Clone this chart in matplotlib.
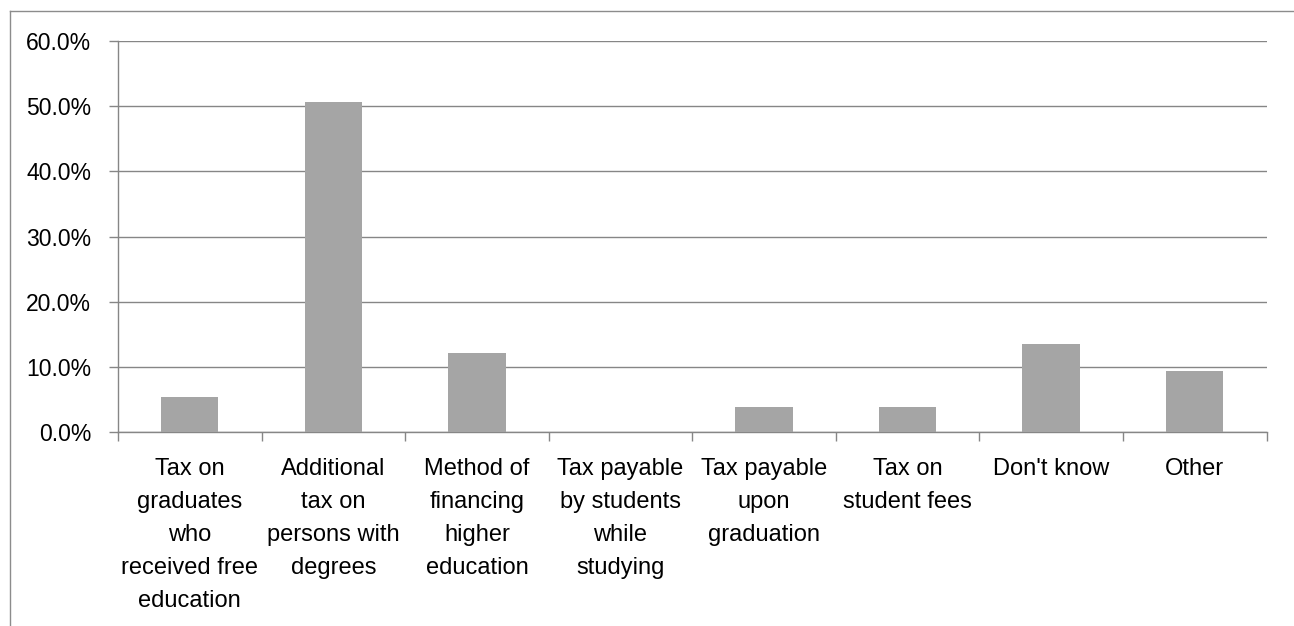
import numpy as np
import matplotlib.pyplot as plt
from matplotlib.lines import Line2D
from matplotlib.ticker import FuncFormatter

plt.rcParams['font.family'] = ['Liberation Sans', 'DejaVu Sans']

# survey answers and share of respondents (%)
categories = [
    "Tax on\ngraduates\nwho\nreceived free\neducation",
    "Additional\ntax on\npersons with\ndegrees",
    "Method of\nfinancing\nhigher\neducation",
    "Tax payable\nby students\nwhile\nstudying",
    "Tax payable\nupon\ngraduation",
    "Tax on\nstudent fees",
    "Don't know",
    "Other",
]
shares = [5.3, 50.6, 12.1, 0.0, 3.8, 3.8, 13.5, 9.4]
yticks = [0, 10, 20, 30, 40, 50, 60]

grey_line = '#868686'
bar_grey = '#A5A5A5'

fig = plt.figure(figsize=(12.94, 6.26), dpi=100)
ax = fig.add_axes([118 / 1294, 1 - 432 / 626, (1266.5 - 118) / 1294, (432 - 41) / 626])

x = np.arange(len(categories))
ax.bar(x, shares, width=0.4, color=bar_grey, zorder=3)

ax.set_xlim(-0.5, len(categories) - 0.5)
ax.set_ylim(0, 60)
ax.set_yticks(yticks)
ax.yaxis.set_major_formatter(FuncFormatter(lambda v, p: f"{v:.1f}%"))
ax.yaxis.grid(True, color=grey_line, linewidth=1.0, zorder=0)

ax.set_xticks(x)
ax.set_xticklabels(categories, multialignment='center', linespacing=1.64)
ax.set_xticks(np.arange(len(categories) + 1) - 0.5, minor=True)
ax.tick_params(axis='x', which='major', length=0, pad=19, labelsize=17)
ax.tick_params(axis='x', which='minor', length=6.5, width=1, color=grey_line)
ax.tick_params(axis='y', length=6.3, width=1, color=grey_line, pad=13, labelsize=16.5)

for side in ['top', 'right']:
    ax.spines[side].set_visible(False)
for side in ['left', 'bottom']:
    ax.spines[side].set_color(grey_line)
    ax.spines[side].set_linewidth(1.0)

# chart frame (only the top and left edges fall inside the image)
fig.add_artist(Line2D([10 / 1294, 10 / 1294], [0, 1 - 11 / 626], color='#8c8c8c', lw=1.0))
fig.add_artist(Line2D([10 / 1294, 1], [1 - 11 / 626, 1 - 11 / 626], color='#8c8c8c', lw=1.0))

fig.savefig('out.png', dpi=100)
